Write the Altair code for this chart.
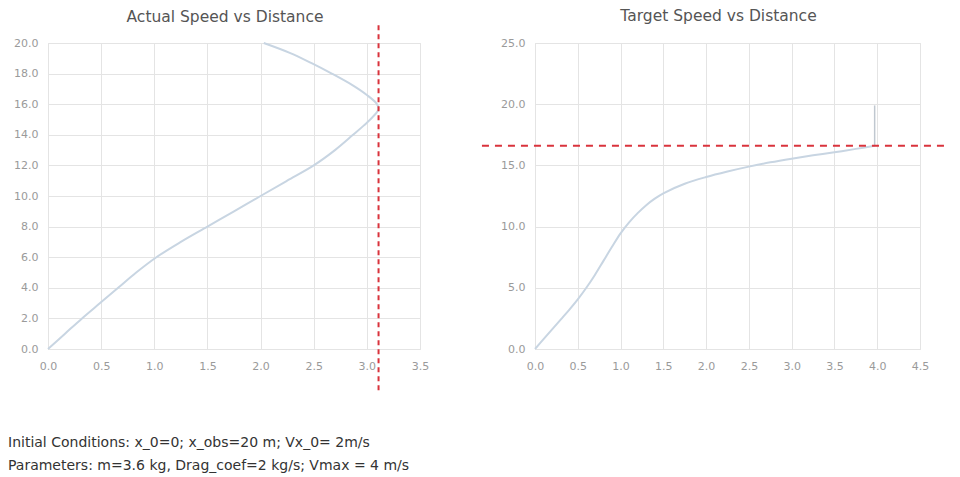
import altair as alt
import pandas as pd

# Left panel: actual speed (x) vs distance (y)
actual_speed = [0, 0.16, 0.32, 0.49, 0.66, 0.83, 1.02, 1.25, 1.5, 1.75, 2.0, 2.25, 2.5, 2.7, 2.87, 2.97, 3.06, 3.11, 3.09, 3.0, 2.86, 2.67, 2.48, 2.28, 2.03]
actual_dist = [0, 1, 2, 3, 4, 5, 6, 7, 8, 9, 10, 11, 12, 13, 14, 14.6, 15.2, 15.7, 16.05, 16.6, 17.26, 18, 18.68, 19.34, 20]
actual_max_speed = [3.11]
actual_rule_span = [-2.7, 21.2]

# Right panel: target speed (x) vs distance (y); last two points form the vertical jump
target_speed = [0, 0.1, 0.2, 0.3, 0.4, 0.5, 0.6, 0.7, 0.8, 0.9, 1.0, 1.1, 1.2, 1.3, 1.4, 1.5, 1.75, 2.0, 2.25, 2.5, 2.75, 3.0, 3.25, 3.5, 3.75, 3.97, 3.97]
target_dist = [0, 0.8, 1.6, 2.4, 3.2, 4.05, 5.0, 6.05, 7.2, 8.35, 9.45, 10.35, 11.1, 11.75, 12.28, 12.72, 13.5, 14.05, 14.5, 14.9, 15.25, 15.55, 15.82, 16.07, 16.35, 16.6, 19.9]
target_ref_dist = [16.6]
target_rule_span = [-0.62, 4.78]

left_x_ticks = [0, 0.5, 1.0, 1.5, 2.0, 2.5, 3.0, 3.5]
left_y_ticks = [0, 2, 4, 6, 8, 10, 12, 14, 16, 18, 20]
right_x_ticks = [0, 0.5, 1.0, 1.5, 2.0, 2.5, 3.0, 3.5, 4.0, 4.5]
right_y_ticks = [0, 5, 10, 15, 20, 25]

notes = [
    "Initial Conditions: x_0=0; x_obs=20 m; Vx_0= 2m/s",
    "Parameters: m=3.6 kg, Drag_coef=2 kg/s; Vmax = 4 m/s",
]

LINE = "#c8d5e2"
RED = "#d9333c"
FONT = "DejaVu Sans"


def axis(values, pad):
    return alt.Axis(values=values, format=".1f", title=None, grid=True, gridColor="#e4e4e4",
                    domain=False, ticks=False, tickSize=0, labelPadding=pad, labelFlush=False,
                    labelOverlap=False, labelColor="#9a9a9a", labelFont=FONT, labelFontSize=11)


def ptitle(text, off):
    return alt.TitleParams(text, font=FONT, fontSize=15.5, fontWeight="normal", color="#555555",
                           frame="group", offset=off, baseline="alphabetic", anchor="middle", dx=-9)


left_df = pd.DataFrame({"speed": actual_speed, "dist": actual_dist, "i": range(len(actual_dist))})
left_rule_df = pd.DataFrame({"speed": actual_max_speed, "d1": [actual_rule_span[0]], "d2": [actual_rule_span[1]]})

lx = alt.Scale(domain=[0, 3.5], nice=False)
ly = alt.Scale(domain=[0, 20], nice=False)
lxa = axis(left_x_ticks, 11)
lya = axis(left_y_ticks, 10)

left_line = alt.Chart(left_df).mark_line(color=LINE, strokeWidth=2, interpolate="catmull-rom").encode(
    x=alt.X("speed:Q", scale=lx, axis=lxa, title=None),
    y=alt.Y("dist:Q", scale=ly, axis=lya, title=None),
    order="i:Q",
)
left_rule = alt.Chart(left_rule_df).mark_rule(color=RED, strokeWidth=2, strokeDash=[5, 4], clip=False).encode(
    x=alt.X("speed:Q", scale=lx, axis=lxa, title=None),
    y=alt.Y("d1:Q", scale=ly, axis=lya, title=None),
    y2="d2:Q",
)
left = alt.layer(left_line, left_rule).properties(width=372, height=306, title=ptitle("Actual Speed vs Distance", -14))

n = len(target_speed)
right_df = pd.DataFrame({"speed": target_speed, "dist": target_dist, "i": range(n)})
curve_df = right_df.iloc[: n - 1]
jump_df = right_df.iloc[n - 2:]
right_rule_df = pd.DataFrame({"s1": [target_rule_span[0]], "s2": [target_rule_span[1]], "dist": target_ref_dist})

rx = alt.Scale(domain=[0, 4.5], nice=False)
ry = alt.Scale(domain=[0, 25], nice=False)
rxa = axis(right_x_ticks, 11)
rya = axis(right_y_ticks, 10)

right_line = alt.Chart(curve_df).mark_line(color=LINE, strokeWidth=2, interpolate="catmull-rom").encode(
    x=alt.X("speed:Q", scale=rx, axis=rxa, title=None),
    y=alt.Y("dist:Q", scale=ry, axis=rya, title=None),
    order="i:Q",
)
right_jump = alt.Chart(jump_df).mark_line(color="#c0c8d0", strokeWidth=1.5).encode(
    x=alt.X("speed:Q", scale=rx, axis=rxa, title=None),
    y=alt.Y("dist:Q", scale=ry, axis=rya, title=None),
    order="i:Q",
)
right_rule = alt.Chart(right_rule_df).mark_rule(color=RED, strokeWidth=2, strokeDash=[7, 6], clip=False).encode(
    x=alt.X("s1:Q", scale=rx, axis=rxa, title=None),
    x2="s2:Q",
    y=alt.Y("dist:Q", scale=ry, axis=rya, title=None),
)
right = alt.layer(right_line, right_jump, right_rule).properties(width=385, height=306, title=ptitle("Target Speed vs Distance", 1))

chart = alt.hconcat(left, right, spacing=50).properties(
    padding={"left": 0, "top": 0, "right": 5, "bottom": 0},
    title=alt.TitleParams(notes, orient="bottom", anchor="start", baseline="top", offset=44, dx=-5,
                          font=FONT, fontSize=14, fontWeight="normal", color="#333333", lineHeight=23),
).configure_view(stroke=None).configure(background="white")

chart.save("out.html", embed_options={"renderer": "svg", "actions": False})
